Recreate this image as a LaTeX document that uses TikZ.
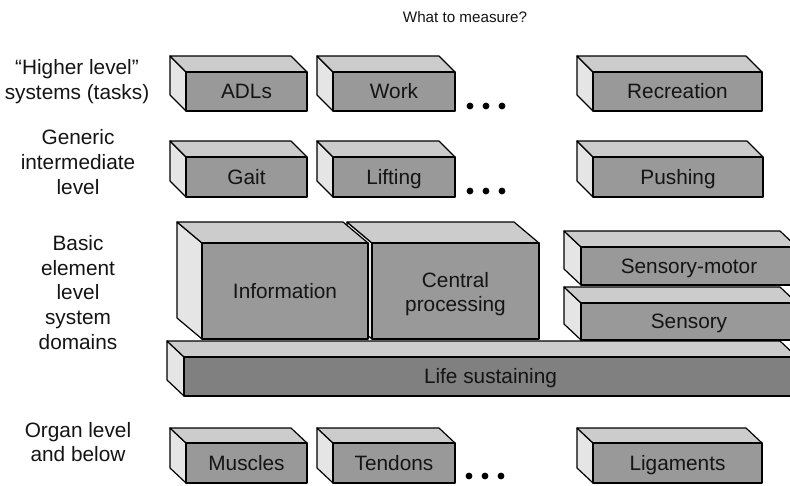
\documentclass[tikz,border=0pt]{standalone}
\usepackage{fontspec}
\setmainfont{Liberation Sans}
\definecolor{frontgray}{gray}{0.6}
\definecolor{lifegray}{gray}{0.5}
\definecolor{topgray}{gray}{0.8}
\definecolor{sidegray}{gray}{0.9}
\definecolor{inkgray}{gray}{0.08}
\newcommand{\boxfont}{\fontsize{20.8}{24.5}\selectfont}
\newcommand{\lblfont}{\fontsize{20.8}{24.8}\selectfont}
\newcommand{\ttlfont}{\fontsize{15.2}{18}\selectfont}
\tikzset{
  face/.style={draw=black, line width=1.2pt, line join=round},
  topface/.style={face, fill=topgray},
  sideface/.style={face, fill=sidegray},
  frontface/.style={face, inner sep=0pt, align=center, font=\boxfont, text=inkgray},
  oneline/.style={text height=19.2pt, text depth=4.4pt},
  lbl/.style={align=center, font=\lblfont, inner sep=0pt, text=inkgray},
  ttl/.style={font=\ttlfont, inner sep=0pt, text=inkgray},
  dotmark/.style={fill=black}
}
% #1 name, #2 x0, #3 y0, #4 x1, #5 y1, #6 dx, #7 dy, #8 text, #9 front options
\newcommand{\blk}[9]{%
  \path[sideface] (#2-#6,#3-#7) -- (#2,#3) -- (#2,#5) -- (#2-#6,#5-#7) -- cycle;
  \path[topface] (#2-#6,#3-#7) -- (#4-#6,#3-#7) -- (#4,#3) -- (#2,#3) -- cycle;
  \node[frontface, #9, minimum width={(#4-#2)*1pt}, minimum height={(#5-#3)*1pt}] (#1) at ({(#2+#4)/2},{(#3+#5)/2}) {#8};
}
\begin{document}
\begin{tikzpicture}[x=1pt, y=-1pt]
\useasboundingbox (0,0) rectangle (790,485);
\clip (0,0) rectangle (790,485);

\node[ttl] (title) at (465,17) {What to measure?};

% left labels
\node[lbl] (lhigh) at (77,82) {“Higher level”\\systems (tasks)};
\node[lbl] (lgen) at (78,162) {Generic\\intermediate\\level};
\node[lbl] (lbasic) at (78,292.5) {Basic\\element\\level\\system\\domains};
\node[lbl] (lorgan) at (78,442) {Organ level\\and below};

% row 1
\blk{adls}{186}{72}{307}{111}{16}{16}{ADLs}{fill=frontgray, oneline}
\blk{work}{333}{72}{455}{111}{16}{16}{Work}{fill=frontgray, oneline}
\blk{recreation}{593}{72}{762}{111}{16}{16}{Recreation}{fill=frontgray, oneline}
\foreach \xx in {470,486,502} \fill[dotmark] (\xx,106) circle (3.4);

% row 2
\blk{gait}{186}{157}{307}{197}{16}{16}{Gait}{fill=frontgray, oneline}
\blk{lifting}{333}{157}{455}{197}{16}{16}{Lifting}{fill=frontgray, oneline}
\blk{pushing}{593}{157}{763}{197}{16}{16}{Pushing}{fill=frontgray, oneline}
\foreach \xx in {470,486,502} \fill[dotmark] (\xx,191) circle (3.4);

% row 3
\blk{life}{184}{357}{797}{396}{17}{16}{Life sustaining}{fill=lifegray, oneline}
\blk{central}{372}{243}{539}{339}{25}{21}{\rule{0pt}{21pt}Central\\processing}{fill=frontgray}
\blk{info}{202}{243}{368}{339}{25}{21}{Information}{fill=frontgray, oneline}
\blk{sensmotor}{581}{247}{797}{285}{17}{16}{Sensory-motor}{fill=frontgray, oneline}
\blk{sensory}{581}{303}{797}{340}{17}{16}{Sensory}{fill=frontgray, oneline}

% row 4
\blk{muscles}{186}{443}{307}{483}{16}{15}{Muscles}{fill=frontgray, oneline}
\blk{tendons}{333}{443}{455}{483}{16}{15}{Tendons}{fill=frontgray, oneline}
\blk{ligaments}{593}{443}{762}{483}{16}{15}{Ligaments}{fill=frontgray, oneline}
\foreach \xx in {469,485,501} \fill[dotmark] (\xx,476) circle (3.4);
\end{tikzpicture}
\end{document}
